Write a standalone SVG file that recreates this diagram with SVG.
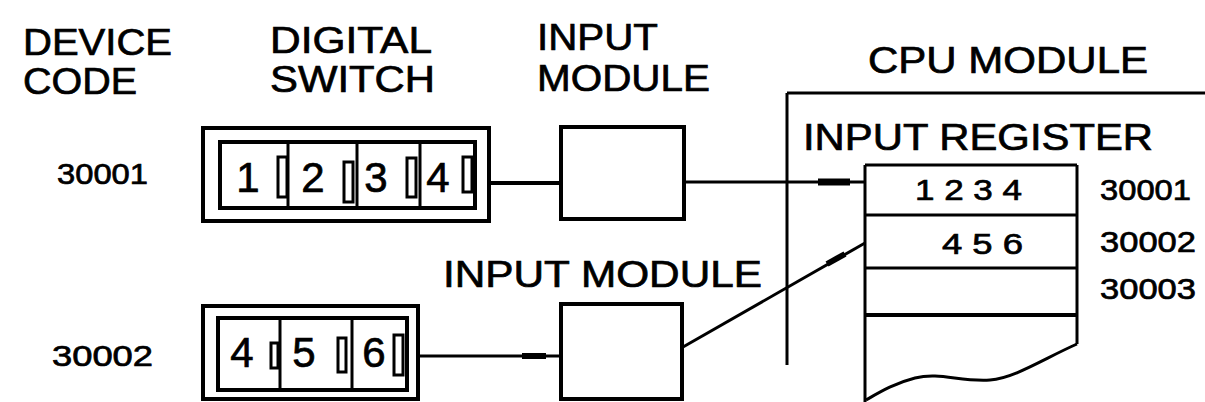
<svg xmlns="http://www.w3.org/2000/svg" width="1205" height="402" viewBox="0 0 1205 402">
<style>
text{font-family:"Liberation Sans",Arial,sans-serif;fill:#000;stroke:#000;stroke-width:0.7}
.h{font-size:37px}
.n{font-size:30px}
.d{font-size:42px}
.r{font-size:29px}
.box{fill:none;stroke:#000;stroke-width:4}
.thin{fill:none;stroke:#000;stroke-width:3}
.ln{fill:none;stroke:#000;stroke-width:3}
</style>
<rect width="1205" height="402" fill="#fff"/>
<g id="headers">
<text class="h" x="23" y="55" textLength="149" lengthAdjust="spacingAndGlyphs">DEVICE</text>
<text class="h" x="23" y="94" textLength="114" lengthAdjust="spacingAndGlyphs">CODE</text>
<text class="h" x="270" y="53" textLength="162" lengthAdjust="spacingAndGlyphs">DIGITAL</text>
<text class="h" x="270" y="92" textLength="165" lengthAdjust="spacingAndGlyphs">SWITCH</text>
<text class="h" x="537" y="50" textLength="121" lengthAdjust="spacingAndGlyphs">INPUT</text>
<text class="h" x="537" y="91" textLength="173" lengthAdjust="spacingAndGlyphs">MODULE</text>
<text class="h" x="868" y="73" textLength="280" lengthAdjust="spacingAndGlyphs">CPU MODULE</text>
</g>
<g id="codes">
<text class="n" x="57" y="184" textLength="91" lengthAdjust="spacingAndGlyphs">30001</text>
<text class="n" x="52" y="366" textLength="101" lengthAdjust="spacingAndGlyphs">30002</text>
</g>
<g id="switch1">
<rect class="box" x="203" y="128" width="286" height="93"/>
<rect class="box" x="220" y="142" width="255" height="66"/>
<line class="thin" x1="288" y1="142" x2="288" y2="208"/>
<line class="thin" x1="357" y1="142" x2="357" y2="208"/>
<line class="thin" x1="420" y1="142" x2="420" y2="208"/>
<rect class="thin" x="278" y="157" width="9" height="40"/>
<rect class="thin" x="344" y="162" width="9" height="40"/>
<rect class="thin" x="407" y="158" width="9" height="39"/>
<rect class="thin" x="463" y="157" width="9" height="35"/>
<text class="d" x="248" y="192" text-anchor="middle">1</text>
<text class="d" x="313" y="192" text-anchor="middle">2</text>
<text class="d" x="376" y="192" text-anchor="middle">3</text>
<text class="d" x="438" y="192" text-anchor="middle">4</text>
</g>
<g id="switch2">
<rect class="box" x="203" y="306" width="215" height="93"/>
<rect class="box" x="218" y="318" width="189" height="72"/>
<line class="thin" x1="280" y1="318" x2="280" y2="390"/>
<line class="thin" x1="352" y1="318" x2="352" y2="390"/>
<rect class="thin" x="271" y="343" width="7" height="25"/>
<rect class="thin" x="338" y="338" width="8" height="34"/>
<rect class="thin" x="394" y="335" width="9" height="40"/>
<text class="d" x="242" y="367" text-anchor="middle">4</text>
<text class="d" x="304" y="367" text-anchor="middle">5</text>
<text class="d" x="374" y="367" text-anchor="middle">6</text>
</g>
<g id="module1">
<rect class="box" x="561" y="127" width="123" height="92"/>
</g>
<g id="module2">
<text class="h" x="443" y="287" textLength="319" lengthAdjust="spacingAndGlyphs">INPUT MODULE</text>
<rect class="box" x="561" y="304" width="121" height="95"/>
</g>
<g id="cpu">
<line class="ln" x1="787" y1="93" x2="1205" y2="93"/>
<line class="ln" x1="787" y1="93" x2="787" y2="365"/>
<text class="h" x="803" y="150" textLength="350" lengthAdjust="spacingAndGlyphs">INPUT REGISTER</text>
</g>
<g id="register">
<line class="ln" x1="865" y1="165" x2="1077" y2="165"/>
<line class="ln" x1="865" y1="165" x2="865" y2="402"/>
<line class="ln" x1="1077" y1="165" x2="1077" y2="344"/>
<line class="ln" x1="865" y1="215" x2="1077" y2="215"/>
<line class="ln" x1="865" y1="268" x2="1077" y2="268"/>
<line class="box" x1="865" y1="315" x2="1077" y2="315"/>
<path class="ln" d="M1077 344 C1045 358 1015 378 990 380 C960 382 940 372 915 378 C895 383 880 392 866 400"/>
<text class="r" x="915" y="200" textLength="107" lengthAdjust="spacingAndGlyphs">1 2 3 4</text>
<text class="r" x="942" y="254" textLength="81" lengthAdjust="spacingAndGlyphs">4 5 6</text>
<text class="n" x="1100" y="200" textLength="91" lengthAdjust="spacingAndGlyphs">30001</text>
<text class="n" x="1100" y="252" textLength="96" lengthAdjust="spacingAndGlyphs">30002</text>
<text class="n" x="1100" y="299" textLength="96" lengthAdjust="spacingAndGlyphs">30003</text>
</g>
<g id="connectors">
<line x1="489" y1="183" x2="561" y2="183" stroke="#000" stroke-width="4"/>
<line class="ln" x1="684" y1="182" x2="865" y2="182"/>
<line x1="818" y1="182" x2="850" y2="182" stroke="#000" stroke-width="7"/>
<line class="ln" x1="418" y1="356" x2="561" y2="356"/>
<line x1="522" y1="356" x2="546" y2="356" stroke="#000" stroke-width="6"/>
<line class="ln" x1="683" y1="347" x2="865" y2="243"/>
<line x1="827" y1="264" x2="845" y2="254" stroke="#000" stroke-width="6"/>
</g>
</svg>
